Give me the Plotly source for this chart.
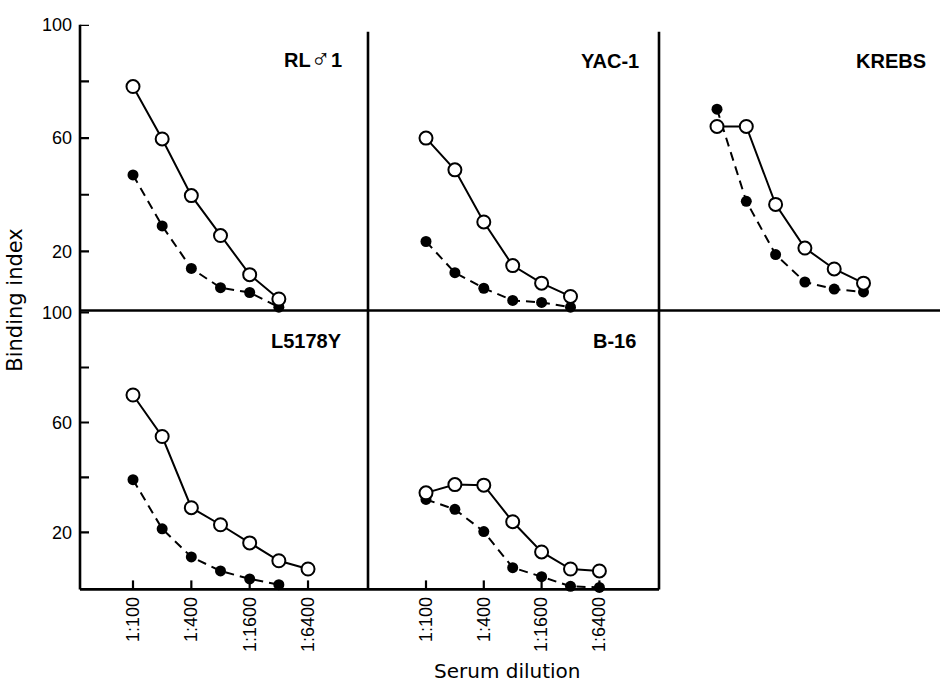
import math
import plotly.graph_objects as go

W, H = 940, 684

# Serum dilution factors (two-fold series) and the labelled ones
dilutions = [100, 200, 400, 800, 1600, 3200, 6400]
tick_dilutions = [100, 400, 1600, 6400]
tick_labels = ["1:100", "1:400", "1:1600", "1:6400"]

# Binding index per target cell line: open circles (solid) / filled circles (dashed)
rl_open = [78.2, 59.7, 39.7, 25.6, 11.8, 3.2]
rl_filled = [47.0, 29.0, 14.0, 7.2, 5.5, 0.3]
yac_open = [60.0, 48.8, 30.4, 15.0, 8.8, 4.1]
yac_filled = [23.5, 12.5, 7.0, 2.7, 2.0, 0.3]
krebs_open = [64.1, 64.1, 36.6, 21.2, 13.8, 8.8]
krebs_filled = [70.2, 37.7, 18.9, 9.2, 6.7, 5.7]
l5178y_open = [70.0, 54.9, 29.0, 22.8, 16.2, 9.7, 6.7]
l5178y_filled = [39.2, 21.3, 11.1, 6.0, 3.1, 1.0]
b16_open = [34.4, 37.4, 37.2, 23.9, 12.9, 6.7, 6.0]
b16_filled = [32.0, 28.4, 20.3, 7.2, 3.9, 0.4, 0.0]

panel_titles = [
    "RL<span style='font-size:27px'>\u2642</span>1",
    "YAC-1", "KREBS", "L5178Y", "B-16",
]
y_tickvals = [20, 40, 60, 80, 100]
y_ticktext = ["20", "", "60", "", "100"]

FONT = "Liberation Sans, Arial, Helvetica, sans-serif"
WIDE = "DejaVu Sans, Verdana, sans-serif"
TICK_LEN = 9


def px_x(p):
    return p / W


def px_y(p):
    return 1 - p / H


def log_range(left, right, origin, step):
    # pixel extents -> log10 range, with 1:100 at `origin` and `step` px per doubling
    lo = 2 + (left - origin) / step * math.log10(2)
    hi = 2 + (right - origin) / step * math.log10(2)
    return [lo, hi]


# layout of the five panels (pixel boxes)
panels = [
    dict(x=(80, 368), o=133, s=29.17, y=(15, 305), yr=[-0.87, 100.0], row=0, col=0,
         data=(rl_open, rl_filled), title_xy=(344, 49)),
    dict(x=(368, 659), o=426, s=28.9, y=(15, 305), yr=[-0.87, 100.0], row=0, col=1,
         data=(yac_open, yac_filled), title_xy=(641, 52)),
    dict(x=(659, 940), o=717, s=29.3, y=(15, 305), yr=[-0.87, 100.0], row=0, col=2,
         data=(krebs_open, krebs_filled), title_xy=(928, 52)),
    dict(x=(80, 368), o=133, s=29.17, y=(305, 588), yr=[-0.72, 100.72], row=1, col=0,
         data=(l5178y_open, l5178y_filled), title_xy=(344, 336)),
    dict(x=(368, 659), o=426, s=28.9, y=(305, 588), yr=[-0.72, 100.72], row=1, col=1,
         data=(b16_open, b16_filled), title_xy=(638, 336)),
]

fig = go.Figure()
layout = dict(
    width=W, height=H,
    margin=dict(l=0, r=0, t=0, b=0),
    paper_bgcolor="white", plot_bgcolor="rgba(0,0,0,0)",
    showlegend=False,
)
annotations = []
shapes = []

for k, p in enumerate(panels, start=1):
    xa = "x" if k == 1 else f"x{k}"
    ya = "y" if k == 1 else f"y{k}"
    open_vals, filled_vals = p["data"]

    fig.add_trace(go.Scatter(
        x=dilutions[:len(filled_vals)], y=filled_vals, xaxis=xa, yaxis=ya,
        mode="lines+markers",
        line=dict(color="black", width=2, dash="9px,6px"),
        marker=dict(symbol="circle", size=11, color="black"),
        cliponaxis=False,
    ))
    fig.add_trace(go.Scatter(
        x=dilutions[:len(open_vals)], y=open_vals, xaxis=xa, yaxis=ya,
        mode="lines+markers",
        line=dict(color="black", width=2),
        marker=dict(symbol="circle", size=13, color="white",
                    line=dict(color="black", width=2)),
        cliponaxis=False,
    ))

    bottom = p["row"] == 1
    left = p["col"] == 0
    xkey = "xaxis" if k == 1 else f"xaxis{k}"
    ykey = "yaxis" if k == 1 else f"yaxis{k}"
    layout[xkey] = dict(
        domain=[px_x(p["x"][0]), px_x(p["x"][1])],
        type="log", range=log_range(p["x"][0], p["x"][1], p["o"], p["s"]),
        anchor=ya, showgrid=False, zeroline=False, showline=False,
        tickmode="array", tickvals=tick_dilutions, ticktext=tick_labels,
        ticks="", showticklabels=bottom, tickangle=-90, ticklabelstandoff=3,
        tickfont=dict(family=FONT, size=18, color="black"),
        fixedrange=True,
    )
    layout[ykey] = dict(
        domain=[px_y(p["y"][1]), px_y(p["y"][0])],
        range=p["yr"], anchor=xa, showgrid=False, zeroline=False, showline=False,
        tickmode="array", tickvals=y_tickvals, ticktext=y_ticktext,
        ticks="", showticklabels=left, ticklabelstandoff=7,
        tickfont=dict(family=FONT, size=18, color="black"),
        fixedrange=True,
    )

    # inward tick marks along the bottom (dilution) and left (binding index) edges
    if bottom:
        for d in tick_dilutions:
            shapes.append(dict(
                type="line", xref=xa, yref=f"{ya} domain",
                x0=d, x1=d, ysizemode="pixel", yanchor=0, y0=0, y1=TICK_LEN,
                line=dict(color="black", width=2.2),
            ))
    if left:
        for v in y_tickvals:
            shapes.append(dict(
                type="line", xref=f"{xa} domain", yref=ya,
                y0=v, y1=v, xsizemode="pixel", xanchor=0, x0=0, x1=TICK_LEN,
                line=dict(color="black", width=2.2),
            ))

    tx, ty = p["title_xy"]
    annotations.append(dict(
        text="<b>" + panel_titles[k - 1] + "</b>",
        x=px_x(tx), y=px_y(ty), xref="paper", yref="paper",
        xanchor="right", yanchor="middle", showarrow=False,
        font=dict(family=FONT, size=20, color="black"),
    ))

# axis titles
annotations.append(dict(
    text="Binding index", x=px_x(15), y=px_y(295), xref="paper", yref="paper",
    textangle=-90, xanchor="center", yanchor="middle", showarrow=False,
    font=dict(family=WIDE, size=21, color="black"),
))
annotations.append(dict(
    text="Serum dilution", x=px_x(507), y=px_y(671), xref="paper", yref="paper",
    xanchor="center", yanchor="middle", showarrow=False,
    font=dict(family=WIDE, size=20, color="black"),
))

# panel frame lines
frame = [
    (80, 15, 80, 588),     # left axis
    (368, 22, 368, 588),   # divider left/middle
    (659, 22, 659, 588),   # divider middle/right
    (80, 305, 940, 305),   # row divider
    (80, 588, 659, 588),   # bottom axis
]
for a, b, c, d in frame:
    shapes.append(dict(
        type="line", xref="paper", yref="paper",
        x0=px_x(a), y0=px_y(b), x1=px_x(c), y1=px_y(d),
        line=dict(color="black", width=2.6),
    ))

layout["annotations"] = annotations
layout["shapes"] = shapes
fig.update_layout(**layout)

fig.write_html("out.html")
